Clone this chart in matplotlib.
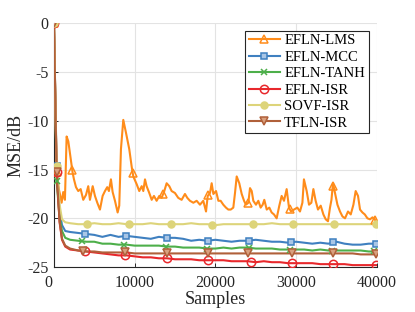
import numpy as np
import matplotlib
matplotlib.use("Agg")
import matplotlib.pyplot as plt
import matplotlib.transforms as mtransforms
from matplotlib.lines import Line2D

plt.rcParams['font.family'] = ['Liberation Serif', 'DejaVu Serif']

# ---------------- data ----------------
labels = ["EFLN-LMS", "EFLN-MCC", "EFLN-TANH", "EFLN-ISR", "SOVF-ISR", "TFLN-ISR"]

# EFLN-LMS (noisy) traced points
lms_x = [0, 330, 600, 740, 950, 1150, 1360, 1570, 1780, 1980, 2310, 2480, 2730, 3010, 3310,
         3630, 3970, 4250, 4460, 4800, 5080, 5370, 5700, 6030, 6320, 6600, 6810, 7060, 7270,
         7560, 7890, 8090, 8300, 8590, 8920, 9330, 9630, 9830, 10250, 10570, 10870, 11070,
         11280, 11480, 11810, 12110, 12390, 12720, 13050, 13340, 13670, 13960, 14290, 14580,
         14990, 15400, 15820, 16230, 16520, 16850, 17270, 17680, 18090, 18500, 18840, 19050,
         19330, 19540, 19750, 20080, 20370, 20650, 20980, 21310, 21600, 21900, 22220, 22430,
         22640, 22960, 23260, 23550, 23790, 24080, 24290, 24500, 24700, 25030, 25320, 25610,
         25860, 26060, 26360, 26680, 26970, 27260, 27590, 27920, 28210, 28500, 28830, 29120,
         29370, 29740, 30150, 30480, 30780, 30970, 31310, 31600, 31890, 32140, 32420, 32710,
         33050, 33380, 33670, 33950, 34200, 34380, 34570, 34820, 35120, 35440, 35740, 36060,
         36430, 36770, 37100, 37380, 37670, 37920, 38220, 38510, 38840, 39160, 39460, 39740,
         40000]
lms_y = [0, -15.2, -17.0, -17.5, -18.4, -17.3, -18.1, -11.6, -12.1, -13.3, -15.3, -16.0, -16.8,
         -17.2, -17.0, -18.1, -17.6, -16.7, -18.1, -16.7, -17.7, -18.4, -19.1, -17.7, -17.2,
         -16.8, -17.2, -16.0, -17.3, -18.2, -19.4, -18.7, -12.9, -9.9, -11.2, -12.9, -14.7,
         -15.7, -16.5, -17.2, -16.7, -17.2, -16.0, -16.7, -17.4, -18.1, -17.7, -18.2, -17.7,
         -17.9, -17.2, -16.4, -16.7, -17.2, -17.4, -17.9, -18.1, -17.5, -17.9, -18.2, -18.4,
         -18.2, -18.6, -18.2, -19.3, -17.7, -17.4, -16.4, -17.5, -17.2, -18.2, -18.2, -18.6,
         -18.9, -19.1, -19.1, -18.9, -17.4, -15.7, -16.4, -17.5, -18.2, -18.6, -18.4, -16.9,
         -17.2, -18.2, -18.6, -18.2, -18.9, -18.6, -18.1, -19.1, -18.9, -19.4, -19.6, -20.0,
         -18.7, -17.7, -18.2, -17.0, -18.9, -19.3, -19.1, -18.9, -19.3, -18.4, -16.0, -17.2,
         -18.6, -18.4, -17.0, -18.2, -19.1, -18.7, -19.6, -20.1, -20.3, -18.9, -18.1, -16.4,
         -17.4, -18.6, -19.3, -19.8, -20.0, -19.3, -19.6, -18.6, -17.2, -17.7, -19.1, -19.4,
         -19.6, -20.0, -20.1, -19.9, -20.1, -20.5]

# Smoother curves share a sample grid
grid_x = [0, 330, 700, 1000, 1400, 2000] + list(range(3000, 40001, 1000))

mcc_y = [0, -14.6, -19.2, -20.7, -21.3, -21.4,
         -21.5, -21.6, -21.7, -21.9, -21.7, -21.9, -21.8, -21.9, -22.0, -22.1, -21.9, -22.0,
         -22.0, -22.1, -22.3, -22.2, -22.3, -22.2, -22.3, -22.4, -22.3, -22.3, -22.2, -22.3,
         -22.4, -22.4, -22.5, -22.4, -22.5, -22.6, -22.5, -22.6, -22.4, -22.6, -22.7, -22.7,
         -22.6, -22.6]
tanh_y = [0, -16.2, -19.9, -21.3, -22.0, -22.2,
          -22.3, -22.4, -22.4, -22.6, -22.6, -22.7, -22.7, -22.8, -22.8, -22.8, -22.8, -22.9,
          -22.9, -23.0, -23.0, -23.0, -23.1, -23.1, -23.0, -23.1, -23.0, -23.0, -23.1, -23.1,
          -23.1, -23.2, -23.2, -23.2, -23.2, -23.3, -23.2, -23.3, -23.3, -23.3, -23.3, -23.3,
          -23.4, -23.4]
isr_y = [0, -15.2, -20.4, -22.2, -22.9, -23.2,
         -23.3, -23.4, -23.5, -23.6, -23.7, -23.8, -23.8, -23.9, -24.0, -24.0, -24.1, -24.1,
         -24.2, -24.2, -24.2, -24.3, -24.3, -24.3, -24.3, -24.4, -24.4, -24.4, -24.5, -24.4,
         -24.5, -24.5, -24.6, -24.6, -24.6, -24.6, -24.7, -24.7, -24.7, -24.7, -24.8, -24.8,
         -24.8, -24.8]
sovf_y = [0, -14.6, -18.6, -20.1, -20.4, -20.5,
          -20.6, -20.6, -20.5, -20.6, -20.6, -20.5, -20.6, -20.6, -20.6, -20.5, -20.6, -20.6,
          -20.6, -20.6, -20.5, -20.6, -20.6, -20.7, -20.6, -20.6, -20.6, -20.6, -20.6, -20.6,
          -20.5, -20.6, -20.6, -20.6, -20.6, -20.6, -20.6, -20.6, -20.6, -20.6, -20.6, -20.6,
          -20.6, -20.6]
tfln_y = [0, -15.2, -20.3, -22.1, -22.8, -23.1,
          -23.3, -23.4, -23.4, -23.5, -23.5, -23.5, -23.5, -23.6, -23.6, -23.6, -23.6, -23.6,
          -23.6, -23.6, -23.6, -23.6, -23.6, -23.6, -23.6, -23.6, -23.6, -23.6, -23.6, -23.6,
          -23.6, -23.6, -23.6, -23.6, -23.6, -23.6, -23.6, -23.6, -23.6, -23.6, -23.6, -23.7,
          -23.7, -23.7]

# marker sample positions
lms_mx = [0, 330, 2270, 9750, 13550, 19120, 24080, 29240, 34540, 39780]
mcc_mx = [0, 330, 3840, 8920, 13970, 19120, 24200, 29370, 34610, 39860]
tanh_mx = [0, 330, 3500, 8700, 13900, 19000, 24200, 29300, 34500, 39700]
isr_mx = [0, 330, 3900, 8800, 13970, 19120, 24370, 29450, 34610, 39860]
sovf_mx = [0, 330, 4130, 9330, 14460, 19540, 24620, 29650, 34730, 39860]
tfln_mx = [0, 330, 3630, 8800, 14050, 19120, 24080, 29450, 34610, 39860]

# ---------------- plot ----------------
fig = plt.figure(figsize=(4.15, 3.12), dpi=100)
ax = fig.add_axes([0.130, 0.144, 0.778, 0.781])

series = [
    (lms_x, lms_y, lms_mx, '#ff8c1a', '^', 'none', 6),
    (grid_x, mcc_y, mcc_mx, '#3f80c0', 's', '#a9c6e6', 5),
    (grid_x, tanh_y, tanh_mx, '#4daf4a', 'x', 'none', 4),
    (grid_x, isr_y, isr_mx, '#e8282c', 'o', 'none', 6),
    (grid_x, sovf_y, sovf_mx, '#ddd47a', 'o', '#ddd47a', 5),
    (grid_x, tfln_y, tfln_mx, '#b0603a', 'v', '#d9a07e', 6),
]

handles = []
for (x, y, mx, c, m, fc, ms), lab in zip(series, labels):
    ax.plot(x, y, color=c, lw=1.5, zorder=3)
    my = np.interp(mx, x, y)
    ax.plot(mx, my, linestyle='none', marker=m, markersize=ms, markeredgecolor=c,
            markerfacecolor=fc, markeredgewidth=1.1, zorder=4)
    handles.append(Line2D([0], [0], color=c, lw=1.5, marker=m, markersize=ms,
                          markeredgecolor=c, markerfacecolor=fc, markeredgewidth=1.1))

ax.set_xlim(0, 40000)
ax.set_ylim(-25, 0)
ax.set_xticks([0, 10000, 20000, 30000, 40000])
ax.set_yticks([-25, -20, -15, -10, -5, 0])
ax.set_xticklabels(['0', '10000', '20000', '30000', '40000'])
ax.set_yticklabels(['-25', '-20', '-15', '-10', '-5', '0'])
ax.grid(True, color='#e3e3e3', lw=0.8)
ax.set_axisbelow(True)
for s in ['top', 'right']:
    ax.spines[s].set_visible(False)
for s in ['left', 'bottom']:
    ax.spines[s].set_color('#262626')
    ax.spines[s].set_linewidth(0.8)
ax.tick_params(direction='in', length=3, width=0.7, labelsize=11.5, colors='#262626')
ax.tick_params(axis='x', pad=6)
ax.tick_params(axis='y', pad=4)
ax.set_xlabel('Samples', fontsize=13, color='#262626', labelpad=0)
ax.set_ylabel('MSE/dB', fontsize=13, color='#262626', labelpad=2)

# shift the "0" x tick label slightly left (as in the reference)
lbl0 = ax.get_xticklabels()[0]
lbl0.set_transform(lbl0.get_transform() +
                   mtransforms.ScaledTranslation(-6 / 100, 0, fig.dpi_scale_trans))

leg = ax.legend(handles, labels, loc='upper right', bbox_to_anchor=(0.888, 0.902),
                bbox_transform=fig.transFigure, borderaxespad=0, fontsize=10.5,
                fancybox=False, framealpha=1, edgecolor='#262626', handlelength=2.1,
                handletextpad=0.3, labelspacing=0.22, borderpad=0.25)
leg.get_frame().set_linewidth(0.8)

fig.savefig('out.png', dpi=100)
